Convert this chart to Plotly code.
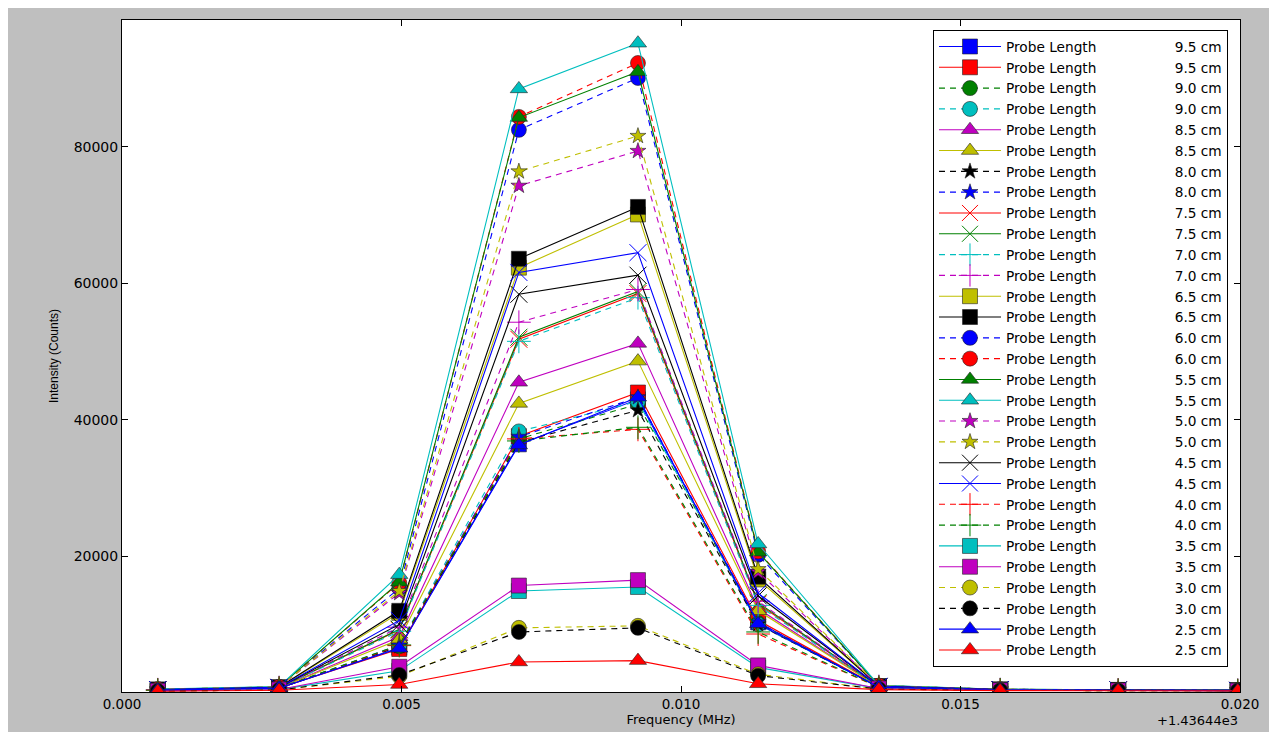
import plotly.graph_objects as go

# Frequency offsets (MHz) relative to 1.43644e3
freq = [0.00064, 0.00281, 0.00496, 0.00710, 0.00923, 0.01138, 0.01354, 0.01571, 0.01782, 0.01996]

# Intensity (Counts) per probe length trace
p95_a = [350, 650, 6600, 36400, 43000, 10300, 800, 400, 350, 300]
p95_b = [380, 680, 6400, 37600, 44000, 10600, 820, 420, 360, 310]
p90_a = [360, 660, 6800, 37200, 42300, 10200, 790, 400, 350, 300]
p90_b = [370, 670, 7000, 38300, 42700, 10000, 800, 410, 355, 305]
p85_a = [400, 700, 8200, 45500, 51200, 12300, 850, 430, 370, 320]
p85_b = [390, 690, 7800, 42400, 48600, 12000, 840, 420, 365, 315]
p80_a = [360, 650, 6800, 36700, 41400, 10000, 790, 400, 350, 300]
p80_b = [370, 660, 6900, 37500, 43300, 10300, 800, 410, 355, 305]
p75_a = [420, 720, 9200, 51800, 58500, 13000, 880, 440, 380, 330]
p75_b = [420, 730, 9300, 52100, 58800, 13200, 890, 440, 380, 330]
p70_a = [410, 720, 9000, 51500, 57900, 12800, 870, 430, 375, 325]
p70_b = [430, 740, 9600, 54300, 59100, 13400, 890, 440, 380, 330]
p65_a = [450, 780, 11700, 62300, 70100, 16600, 950, 460, 400, 340]
p65_b = [460, 790, 12000, 63600, 71200, 17000, 960, 470, 400, 340]
p60_a = [500, 840, 15300, 82500, 90100, 20200, 1020, 500, 420, 360]
p60_b = [510, 850, 16100, 84400, 92300, 20700, 1040, 500, 425, 360]
p55_a = [510, 850, 16200, 84300, 91000, 20600, 1040, 500, 425, 360]
p55_b = [530, 880, 17300, 88500, 95200, 21800, 1070, 510, 430, 370]
p50_a = [480, 820, 14600, 74300, 79400, 17700, 1000, 480, 410, 350]
p50_b = [490, 830, 14900, 76400, 81600, 18100, 1010, 490, 415, 355]
p45_a = [440, 770, 10000, 58400, 61200, 14200, 920, 450, 390, 335]
p45_b = [450, 780, 10600, 61600, 64500, 14600, 930, 460, 395, 340]
p40_a = [370, 660, 6900, 37200, 38600, 8600, 780, 400, 350, 300]
p40_b = [370, 660, 7000, 36900, 38900, 8900, 785, 400, 350, 300]
p35_a = [260, 450, 3200, 14900, 15500, 3700, 600, 350, 320, 290]
p35_b = [270, 460, 3800, 15700, 16500, 4000, 610, 355, 320, 290]
p30_a = [230, 400, 2400, 9500, 9800, 2700, 520, 330, 300, 280]
p30_b = [230, 390, 2600, 8900, 9500, 2500, 520, 330, 300, 280]
p25_a = [380, 670, 6500, 36300, 43300, 10100, 800, 400, 350, 300]
p25_b = [200, 350, 1200, 4500, 4700, 1300, 450, 300, 280, 260]

series = [p95_a, p95_b, p90_a, p90_b, p85_a, p85_b, p80_a, p80_b, p75_a, p75_b,
          p70_a, p70_b, p65_a, p65_b, p60_a, p60_b, p55_a, p55_b, p50_a, p50_b,
          p45_a, p45_b, p40_a, p40_b, p35_a, p35_b, p30_a, p30_b, p25_a, p25_b]

lengths = ["9.5", "9.5", "9.0", "9.0", "8.5", "8.5", "8.0", "8.0", "7.5", "7.5",
           "7.0", "7.0", "6.5", "6.5", "6.0", "6.0", "5.5", "5.5", "5.0", "5.0",
           "4.5", "4.5", "4.0", "4.0", "3.5", "3.5", "3.0", "3.0", "2.5", "2.5"]

# styles
B, R, G, C, M, Y, K = "#0000ff", "#ff0000", "#008000", "#00bfbf", "#bf00bf", "#bfbf00", "#000000"
colors = [B, R, G, C, M, Y, K, B, R, G,
          C, M, Y, K, B, R, G, C, M, Y,
          K, B, R, G, C, M, Y, K, B, R]
symbols = ["square", "square", "circle", "circle", "triangle-up", "triangle-up", "star", "star", "x-thin", "x-thin",
           "cross-thin", "cross-thin", "square", "square", "circle", "circle", "triangle-up", "triangle-up", "star", "star",
           "x-thin", "x-thin", "cross-thin", "cross-thin", "square", "square", "circle", "circle", "triangle-up", "triangle-up"]
dashed = [False, False, True, True, False, False, True, True, False, False,
          True, True, False, False, True, True, False, False, True, True,
          False, False, True, True, False, False, True, True, False, False]

GAP = "\u00a0" * 18

fig = go.Figure()
for vals, L, col, sym, d in zip(series, lengths, colors, symbols, dashed):
    thin = sym.endswith("-thin")
    if thin:
        marker = dict(symbol=sym, size=17, color=col, line=dict(color=col, width=1))
    elif sym == "star":
        marker = dict(symbol=sym, size=12, color=col, line=dict(color="#222222", width=0.6))
    else:
        marker = dict(symbol=sym, size=15, color=col, line=dict(color="#222222", width=0.6))
    fig.add_trace(go.Scatter(
        x=freq, y=vals, mode="lines+markers",
        name="Probe Length" + GAP + L + " cm",
        line=dict(color=col, width=1.1, dash="6px,5px" if d else "solid"),
        marker=marker,
    ))

fig.add_annotation(text="+1.43644e3", xref="paper", yref="paper", x=1.0, y=-0.042,
                   xanchor="right", yanchor="middle", showarrow=False,
                   font=dict(family="DejaVu Sans", size=13, color="black"))

fig.update_layout(
    width=1277, height=732,
    paper_bgcolor="#bfbfbf", plot_bgcolor="white",
    margin=dict(l=114, r=45, t=12, b=48),
    font=dict(family="DejaVu Sans", size=13, color="black"),
    legend=dict(x=0.7254, y=0.985, xanchor="left", yanchor="top",
                bgcolor="white", bordercolor="black", borderwidth=1,
                font=dict(family="DejaVu Sans", size=13.7, color="black"),
                itemwidth=62),
    showlegend=True,
)
fig.update_xaxes(range=[0, 0.020], tickvals=[0, 0.005, 0.010, 0.015, 0.020], tickformat=".3f",
                 ticks="inside", ticklen=6, tickcolor="black", showline=True, linecolor="black",
                 linewidth=1, mirror="ticks", showgrid=False, zeroline=False,
                 tickfont=dict(size=13.5),
                 title=dict(text="Frequency (MHz)", standoff=2, font=dict(size=13)))
fig.update_yaxes(range=[100, 98600], tickvals=[20000, 40000, 60000, 80000], tickformat="d",
                 ticks="inside", ticklen=6, tickcolor="black", showline=True, linecolor="black",
                 linewidth=1, mirror="ticks", showgrid=False, zeroline=False,
                 tickfont=dict(size=14),
                 title=dict(text="Intensity (Counts)", standoff=12,
                            font=dict(family="Liberation Sans", size=12)))

fig.write_html("out.html")
